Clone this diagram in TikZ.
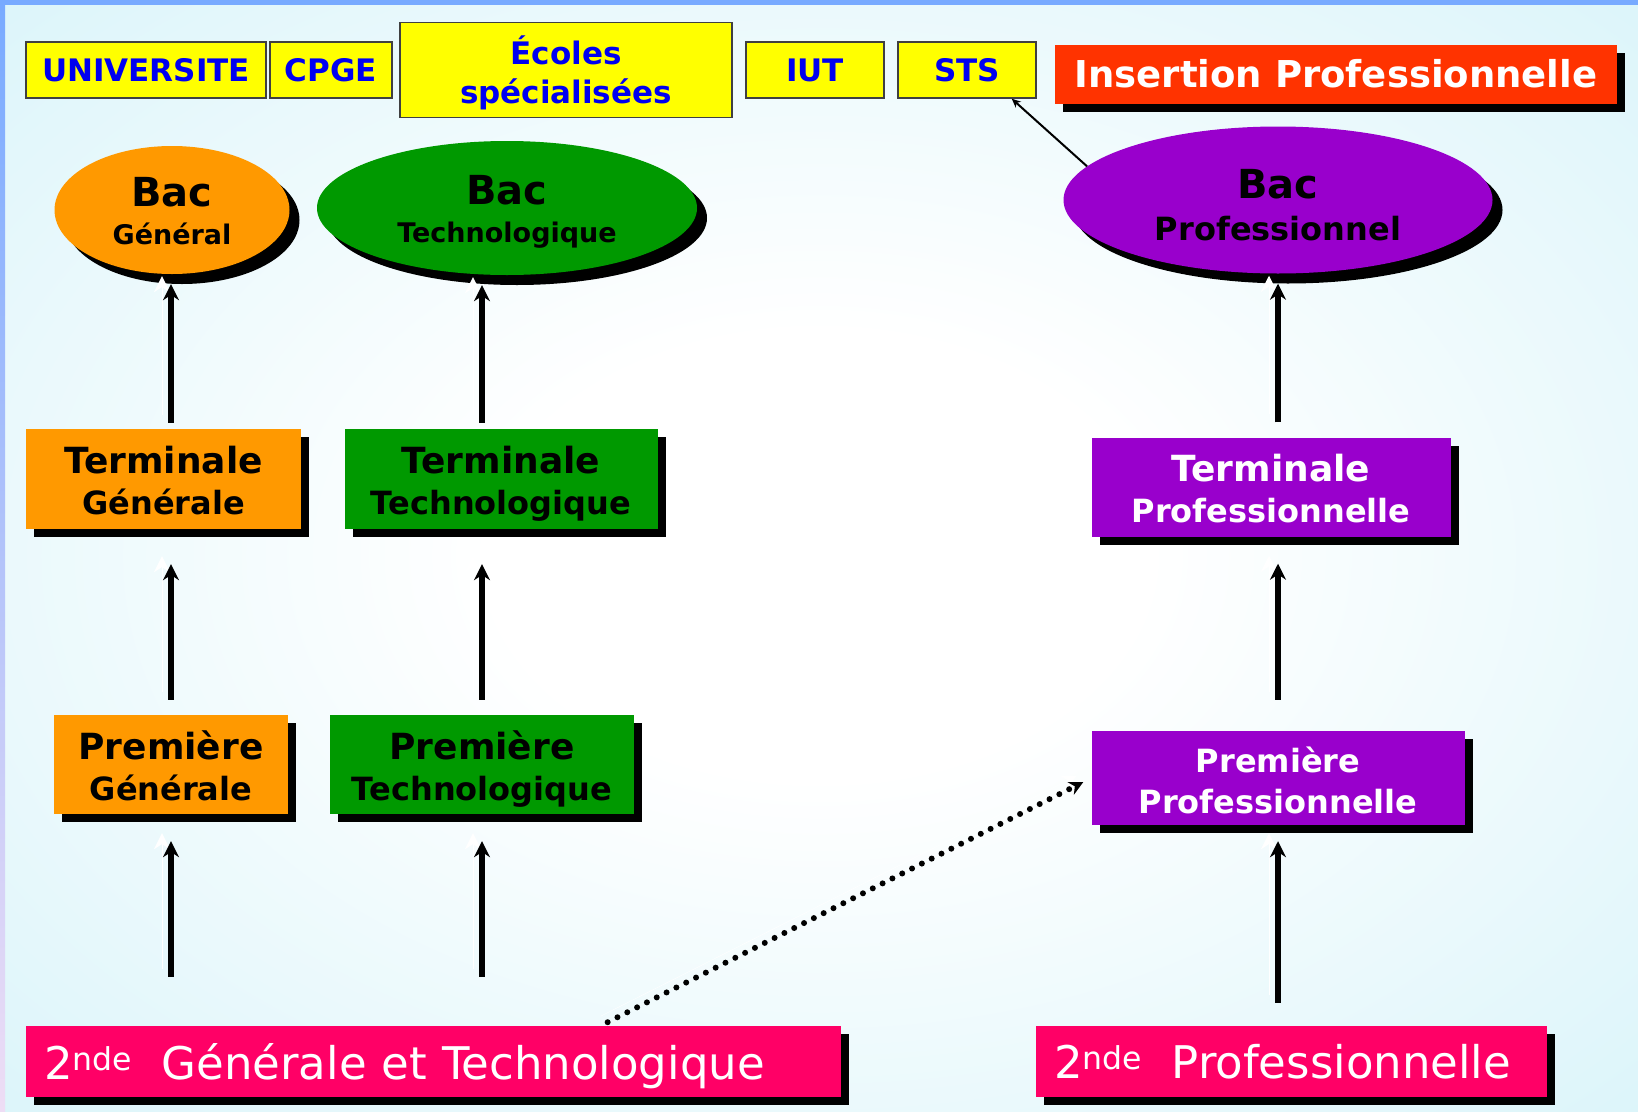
\documentclass[tikz,border=0pt]{standalone}
\usepackage{fontspec}
\setmainfont{DejaVu Sans}
\usetikzlibrary{shapes.geometric, arrows.meta, shadows}

\definecolor{bgcyan}{HTML}{C8EFF7}
\definecolor{frameblue}{HTML}{78AAFF}
\definecolor{framelilac}{HTML}{EEDDF5}
\definecolor{topyellow}{HTML}{FFFF00}
\definecolor{topblue}{HTML}{0000F0}
\definecolor{insred}{HTML}{FF3300}
\definecolor{genorange}{HTML}{FF9900}
\definecolor{techgreen}{HTML}{009900}
\definecolor{propurple}{HTML}{9900CC}
\definecolor{secpink}{HTML}{FF0066}

\pgfdeclareradialshading{bgglow}{\pgfpoint{0bp}{0bp}}{color(0bp)=(white); color(10bp)=(white); color(50bp)=(bgcyan)}

\tikzstyle{topbox} = [rectangle, draw=black!75, line width=1.5pt, fill=topyellow, text=topblue, font=\bfseries\fontsize{31}{39}\selectfont, minimum height=56pt, inner sep=0pt, align=center]
\tikzstyle{boxshadow} = [drop shadow={shadow xshift=8pt, shadow yshift=-8pt, fill=black, opacity=1}]
\tikzstyle{bac} = [ellipse, drop shadow={shadow xshift=10pt, shadow yshift=-10pt, fill=black, opacity=1}, inner sep=0pt, text height=68pt, text depth=0pt, align=center, font=\bfseries\fontsize{27}{38}\selectfont]
\tikzstyle{level} = [rectangle, boxshadow, inner sep=0pt, text height=71pt, text depth=0pt, align=center, font=\bfseries\fontsize{32}{41}\selectfont]
\tikzstyle{seconde} = [rectangle, boxshadow, fill=secpink, text=white, inner xsep=18pt, text depth=0pt, minimum height=71pt, align=left, font=\fontsize{45}{54}\selectfont]
\tikzstyle{arrow} = [line width=6pt, -{Stealth[length=16pt, width=16pt]}, preaction={draw=white, transform canvas={xshift=-9pt, yshift=8pt}}]
\tikzstyle{dotarrow} = [line width=6pt, line cap=round, dash pattern=on 0pt off 11pt, -{Stealth[length=14pt, width=14pt]}, preaction={draw=white, transform canvas={xshift=-7pt, yshift=6pt}}]
\tikzstyle{thinarrow} = [line width=2pt, -{Stealth[length=9pt, width=8pt]}]

\newcommand{\bigline}[1]{{\fontsize{36}{41}\selectfont #1}}
\newcommand{\bacline}[1]{{\fontsize{40}{38}\selectfont #1}}

\begin{document}
\begin{tikzpicture}[x=1pt, y=-1pt]

    % Background
    \useasboundingbox (0,0) rectangle (1638,1111);
    \shade [shading=bgglow] (0,0) rectangle (1638,1111);
    \fill [frameblue] (0,0) rectangle (1638,5);
    \shade [top color=frameblue, bottom color=framelilac] (0,0) rectangle (5,1111);

    % Nodes
    \node (univ) [topbox, minimum width=240pt] at (146,70) {UNIVERSITE};
    \node (cpge) [topbox, minimum width=122pt] at (331,70) {CPGE};
    \node (ecoles) [topbox, minimum width=332pt, minimum height=95pt, text depth=0pt] at (566,70) {Écoles\\spécialisées};
    \node (iut) [topbox, minimum width=138pt] at (815,70) {IUT};
    \node (sts) [topbox, minimum width=138pt] at (967,70) {STS};
    \node (insertion) [rectangle, boxshadow, fill=insred, text=white, font=\bfseries\fontsize{37}{44}\selectfont, minimum width=562pt, minimum height=59pt] at (1336,74) {Insertion Professionnelle};

    \node (bacgen) [bac, fill=genorange, minimum width=235pt, minimum height=128pt] at (172,210) {\bacline{Bac}\\Général};
    \node (bactech) [bac, fill=techgreen, minimum width=380pt, minimum height=134pt] at (507,208) {\bacline{Bac}\\Technologique};
    \node (bacpro) [bac, fill=propurple, minimum width=429pt, minimum height=147pt, text height=81pt, font=\bfseries\fontsize{32}{42}\selectfont] at (1278,200) {\bacline{Bac}\\Professionnel};

    \node (termgen) [level, fill=genorange, minimum width=275pt, minimum height=100pt] at (163.5,479) {\bigline{Terminale}\\Générale};
    \node (termtech) [level, fill=techgreen, minimum width=313pt, minimum height=100pt] at (501,479) {\bigline{Terminale}\\Technologique};
    \node (termpro) [level, fill=propurple, text=white, minimum width=359pt, minimum height=99pt] at (1271,487) {\bigline{Terminale}\\Professionnelle};

    \node (premgen) [level, fill=genorange, minimum width=234pt, minimum height=99pt] at (171,764.5) {\bigline{Première}\\Générale};
    \node (premtech) [level, fill=techgreen, minimum width=304pt, minimum height=99pt] at (482,764.5) {\bigline{Première}\\Technologique};
    \node (prempro) [level, fill=propurple, text=white, minimum width=373pt, minimum height=94pt] at (1278,778) {Première\\Professionnelle};

    \node (secgen) [seconde, text width=779pt] at (433.5,1061.5) {2\textsuperscript{nde}\hspace{0.65em}Générale et Technologique};
    \node (secpro) [seconde, text width=475pt] at (1291.5,1061.5) {2\textsuperscript{nde}\hspace{0.65em}Professionnelle};

    % Arrows
    \draw [arrow, shorten <=49pt, shorten >=27pt] (premgen.south |- secgen.north) -- (premgen.south);
    \draw [arrow, shorten <=15pt, shorten >=35pt] (premgen.north) -- (premgen.north |- termgen.south);
    \draw [arrow, shorten <=6pt, shorten >=10pt] (premgen.north |- termgen.north) -- (premgen.north |- bacgen.south);

    \draw [arrow, shorten <=49pt, shorten >=27pt] (premtech.south |- secgen.north) -- (premtech.south);
    \draw [arrow, shorten <=15pt, shorten >=35pt] (premtech.north) -- (premtech.north |- termtech.south);
    \draw [arrow, shorten <=6pt, shorten >=10pt] (premtech.north |- termtech.north) -- (premtech.north |- bactech.south);

    \draw [arrow, shorten <=23pt, shorten >=16pt] (prempro.south |- secpro.north) -- (prempro.south);
    \draw [arrow, shorten <=31pt, shorten >=27pt] (prempro.north) -- (prempro.north |- termpro.south);
    \draw [arrow, shorten <=15pt, shorten >=10pt] (prempro.north |- termpro.north) -- (prempro.north |- bacpro.south);

    \draw [dotarrow, shorten <=8pt, shorten >=9pt] ([xshift=167pt]secgen.north) -- (prempro.west);
    \draw [thinarrow] (bacpro.170) -- ([xshift=-25pt]sts.south east);
\end{tikzpicture}
\end{document}
